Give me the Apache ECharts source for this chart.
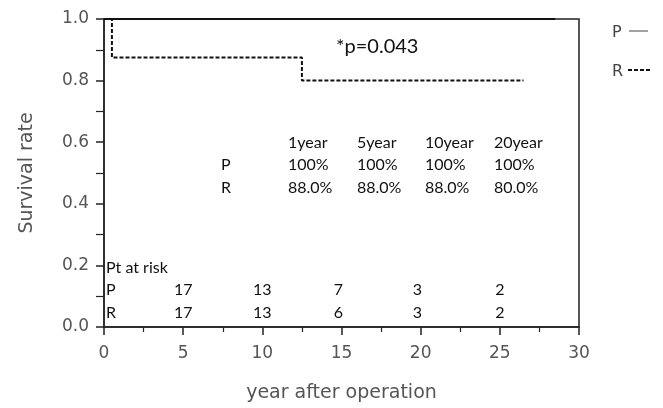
<!DOCTYPE html>
<html><head><meta charset="utf-8">
<script src="https://cdn.jsdelivr.net/npm/echarts@6/dist/echarts.min.js"></script>
<style>html,body{margin:0;padding:0;background:#fff}#c{width:663px;height:408px}</style>
</head><body><div id="c"></div>
<script>
// Kaplan-Meier step data
const pTimes = [0, 28.5];
const pSurv = [1.0, 1.0];
const rTimes = [0, 0.5, 12.5, 26.5];
const rSurv = [1.0, 0.875, 0.80, 0.80];
// survival table
const survCols = ['1year', '5year', '10year', '20year'];
const survP = ['100%', '100%', '100%', '100%'];
const survR = ['88.0%', '88.0%', '88.0%', '80.0%'];
// patients at risk
const riskYears = [5, 10, 14.8, 19.8, 25];
const riskP = ['17', '13', '7', '3', '2'];
const riskR = ['17', '13', '6', '3', '2'];
const xTicks = [0, 5, 10, 15, 20, 25, 30];
const yTicks = [0.0, 0.2, 0.4, 0.6, 0.8, 1.0];

const chart = echarts.init(document.getElementById('c'));
const tableFont = 'Lato, sans-serif';
const axFont = 'DejaVu Sans';

const option = {
  animation: false,
  grid: { left: 104, right: 84, top: 19, bottom: 80, show: true, borderColor: '#222', borderWidth: 1.5, backgroundColor: 'transparent' },
  xAxis: {
    type: 'value', min: 0, max: 30, interval: 5,
    name: 'year after operation', nameLocation: 'middle', nameGap: 57,
    nameTextStyle: { fontFamily: axFont, fontSize: 19, color: '#555' },
    axisLine: { show: true, onZero: false, lineStyle: { color: '#222', width: 1.5 } },
    axisTick: { show: true, length: 8, lineStyle: { color: '#222', width: 1.5 } },
    minorTick: { show: true, splitNumber: 2, length: 5, lineStyle: { color: '#222', width: 1.2 } },
    splitLine: { show: false },
    axisLabel: { fontFamily: axFont, fontSize: 17, color: '#555', margin: 18,
      formatter: v => xTicks.includes(v) ? String(v) : '' }
  },
  yAxis: {
    type: 'value', min: 0, max: 1, interval: 0.2,
    name: 'Survival rate', nameLocation: 'middle', nameGap: 67,
    nameTextStyle: { fontFamily: axFont, fontSize: 19, color: '#555' },
    axisLine: { show: true, onZero: false, lineStyle: { color: '#222', width: 1.5 } },
    axisTick: { show: true, length: 8, lineStyle: { color: '#222', width: 1.5 } },
    minorTick: { show: true, splitNumber: 2, length: 8, lineStyle: { color: '#222', width: 1.2 } },
    splitLine: { show: false },
    axisLabel: { fontFamily: axFont, fontSize: 17, color: '#555', margin: 15,
      formatter: v => yTicks.some(t => Math.abs(t - v) < 1e-9) ? v.toFixed(1) : '' }
  },
  series: [
    { type: 'line', name: 'P', step: 'end', symbol: 'none',
      data: pTimes.map((t, i) => [t, pSurv[i]]),
      lineStyle: { color: '#111', width: 1.8 } },
    { type: 'line', name: 'R', step: 'end', symbol: 'none',
      data: rTimes.map((t, i) => [t, rSurv[i]]),
      lineStyle: { color: '#111', width: 2, type: [4, 2] } }
  ],
  graphic: []
};

const g = [];
function txt(x, y, s, size, align, font, color) {
  g.push({ type: 'text', x: x, y: y, style: { text: s, fontSize: size || 16, fontFamily: font || tableFont, fill: color || '#111', align: align || 'left', verticalAlign: 'middle' } });
}
// legend
txt(612, 33, 'P', 16, 'left', axFont, '#444');
g.push({ type: 'line', shape: { x1: 629, y1: 31, x2: 648, y2: 31 }, style: { stroke: '#666', lineWidth: 1.2 } });
txt(612, 72, 'R', 16, 'left', axFont, '#444');
g.push({ type: 'line', shape: { x1: 628, y1: 70, x2: 650, y2: 70 }, style: { stroke: '#111', lineWidth: 2, lineDash: [4, 2] } });
// p value
txt(336, 47, '*p=0.043', 20);
// survival table
const colX = [288, 357, 425, 494];
survCols.forEach((s, i) => txt(colX[i], 143, s, 16));
txt(221, 165, 'P', 16);
txt(221, 188, 'R', 16);
survP.forEach((s, i) => txt(colX[i], 165, s, 16));
survR.forEach((s, i) => txt(colX[i], 188, s, 16));
chart.setOption(option);

// risk table placed via axis scale
function rt(x, y, s, align) {
  g.push({ type: 'text', x: x, y: y, style: { text: s, fontSize: 16, fontFamily: tableFont, fill: '#111', align: align, verticalAlign: 'middle' } });
}
rt(106, 268, 'Pt at risk', 'left');
rt(106, 290, 'P', 'left');
rt(106, 313, 'R', 'left');
riskYears.forEach((yr, i) => {
  const px = chart.convertToPixel({ gridIndex: 0 }, [yr, 0])[0];
  rt(px, 290, riskP[i], 'center');
  rt(px, 313, riskR[i], 'center');
});
chart.setOption({ graphic: g });
</script></body></html>
